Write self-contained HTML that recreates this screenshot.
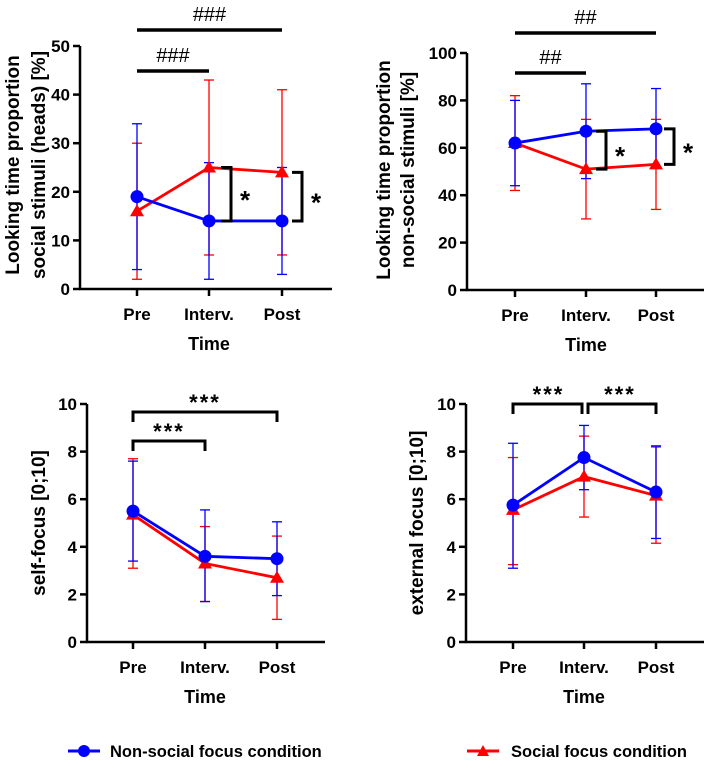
<!DOCTYPE html>
<html><head><meta charset="utf-8"><style>
body{margin:0;background:#fff;}
svg{display:block;font-family:"Liberation Sans",Arial,sans-serif;font-weight:bold;}
</style></head><body>
<svg id="chart" width="708" height="760" viewBox="0 0 708 760"></svg>
<script>
const categories = ["Pre","Interv.","Post"];
// Panel A: social stimuli
const aBlue = [19,14,14], aBlueLo = [4,2,3], aBlueHi = [34,26,25];
const aRed = [16,25,24], aRedLo = [2,7,7], aRedHi = [30,43,41];
const aTicks = [0,10,20,30,40,50];
// Panel B: non-social stimuli
const bBlue = [62,67,68], bBlueLo = [44,47,52], bBlueHi = [80,87,85];
const bRed = [62,51,53], bRedLo = [42,30,34], bRedHi = [82,72,72];
const bTicks = [0,20,40,60,80,100];
// Panel C: self-focus
const cBlue = [5.5,3.6,3.5], cBlueLo = [3.4,1.7,1.95], cBlueHi = [7.6,5.55,5.05];
const cRed = [5.35,3.3,2.7], cRedLo = [3.1,1.7,0.95], cRedHi = [7.7,4.85,4.45];
const cTicks = [0,2,4,6,8,10];
// Panel D: external focus
const dBlue = [5.75,7.75,6.3], dBlueLo = [3.1,6.4,4.35], dBlueHi = [8.35,9.1,8.2];
const dRed = [5.55,6.95,6.15], dRedLo = [3.25,5.25,4.15], dRedHi = [7.75,8.65,8.25];
const dTicks = [0,2,4,6,8,10];

const NS="http://www.w3.org/2000/svg";
const svg=document.getElementById('chart');
function mk(tag,attrs,parent,text){const e=document.createElementNS(NS,tag);for(const k in attrs)e.setAttribute(k,attrs[k]);if(text!==undefined)e.textContent=text;(parent||svg).appendChild(e);return e;}

function panel(cfg){
  const g=mk('g',{});
  
  
  const ymax=cfg.ticks[cfg.ticks.length-1];
  const Y=v=>cfg.y0-(cfg.y0-cfg.yTop)*v/ymax;
  const X=i=>cfg.xs[i];
  const ax=mk('line',{x1:cfg.ax,y1:cfg.yTop,x2:cfg.ax,y2:cfg.y0+1,stroke:'#000','stroke-width':2.5},g);
  
  const xa=mk('line',{x1:cfg.ax-1,y1:cfg.y0,x2:cfg.axEnd,y2:cfg.y0,stroke:'#000','stroke-width':2.5},g);
  
  cfg.ticks.forEach(t=>{
    mk('line',{x1:cfg.ax-7,y1:Y(t),x2:cfg.ax,y2:Y(t),stroke:'#000','stroke-width':2.5},g);
    const tl=mk('text',{x:cfg.ax-10,y:Y(t)+6,'text-anchor':'end','font-size':17},g,String(t));
    
  });
  categories.forEach((c,i)=>{
    mk('line',{x1:X(i),y1:cfg.y0,x2:X(i),y2:cfg.y0+7,stroke:'#000','stroke-width':2.5},g);
    const tl=mk('text',{x:X(i),y:cfg.y0+31,'text-anchor':'middle','font-size':17},g,c);
    
  });
  const xt=mk('text',{x:X(1),y:cfg.y0+61,'text-anchor':'middle','font-size':18},g,'Time');
  
  cfg.ylabel.forEach((ln,k)=>{
    const yl=mk('text',{x:0,y:0,'text-anchor':'middle','font-size':19,transform:`translate(${cfg.ylx[k]+7},${cfg.yly}) rotate(-90)`},g,ln);
    
  });
  const series=[{v:cfg.red,lo:cfg.redLo,hi:cfg.redHi,c:'#ff0000',m:'tri',n:'social'},{v:cfg.blue,lo:cfg.blueLo,hi:cfg.blueHi,c:'#0000ff',m:'circ',n:'non-social'}];
  series.forEach(s=>{
    s.v.forEach((v,i)=>{
      const eb=mk('g',{stroke:s.c,'stroke-width':1.3},g);
      
      mk('line',{x1:X(i),y1:Y(s.lo[i]),x2:X(i),y2:Y(s.hi[i])},eb);
      mk('line',{x1:X(i)-5,y1:Y(s.lo[i]),x2:X(i)+5,y2:Y(s.lo[i])},eb);
      mk('line',{x1:X(i)-5,y1:Y(s.hi[i]),x2:X(i)+5,y2:Y(s.hi[i])},eb);
    });
  });
  series.forEach(s=>{
    const pl=mk('polyline',{points:s.v.map((v,i)=>X(i)+','+Y(v)).join(' '),fill:'none',stroke:s.c,'stroke-width':2.8},g);
    
    s.v.forEach((v,i)=>{
      let m;
      if(s.m==='circ') m=mk('circle',{cx:X(i),cy:Y(v),r:6.5,fill:s.c},g);
      else m=mk('polygon',{points:`${X(i)},${Y(v)-7} ${X(i)-7},${Y(v)+5} ${X(i)+7},${Y(v)+5}`,fill:s.c},g);
      
    });
  });
  (cfg.bars||[]).forEach(b=>{
    const l=mk('line',{x1:X(b.a),y1:b.y,x2:X(b.b),y2:b.y,stroke:'#000','stroke-width':3.5},g);
    
    const t=mk('text',{x:(X(b.a)+X(b.b))/2,y:b.y-9,'text-anchor':'middle','font-size':20,'font-weight':'normal'},g,b.t);
    
  });
  (cfg.brackets||[]).forEach(b=>{
    const p=mk('polyline',{points:`${X(b.a)+b.da},${b.y+10} ${X(b.a)+b.da},${b.y} ${X(b.b)+b.db},${b.y} ${X(b.b)+b.db},${b.y+10}`,fill:'none',stroke:'#000','stroke-width':3},g);
    
    const t=mk('text',{x:(X(b.a)+X(b.b))/2,y:b.y-2,'text-anchor':'middle','font-size':22,'letter-spacing':2},g,'***');
    
  });
  (cfg.vbrackets||[]).forEach(b=>{
    const yt=Y(Math.max(cfg.red[b.i],cfg.blue[b.i])), yb=Y(Math.min(cfg.red[b.i],cfg.blue[b.i]));
    const p=mk('polyline',{points:`${b.x-10},${yt} ${b.x},${yt} ${b.x},${yb} ${b.x-10},${yb}`,fill:'none',stroke:'#000','stroke-width':3},g);
    
    const t=mk('text',{x:b.x+14,y:(yt+yb)/2+15,'text-anchor':'middle','font-size':26},g,'*');
    
  });
}

panel({name:'panel-social-stimuli',ax:80,axEnd:332,yTop:46,y0:289,xs:[137,209,282],ticks:aTicks,
  blue:aBlue,blueLo:aBlueLo,blueHi:aBlueHi,red:aRed,redLo:aRedLo,redHi:aRedHi,
  ylabel:['Looking time proportion','social stimuli (heads) [%]'],ylx:[12,38],yly:165,
  bars:[{a:0,b:2,y:30,t:'###'},{a:0,b:1,y:71,t:'###'}],
  vbrackets:[{i:1,x:231},{i:2,x:302}]});
panel({name:'panel-non-social-stimuli',ax:467,axEnd:704,yTop:53,y0:290,xs:[515,586,656],ticks:bTicks,
  blue:bBlue,blueLo:bBlueLo,blueHi:bBlueHi,red:bRed,redLo:bRedLo,redHi:bRedHi,
  ylabel:['Looking time proportion','non-social stimuli [%]'],ylx:[383,407],yly:170,
  bars:[{a:0,b:2,y:33,t:'##'},{a:0,b:1,y:73,t:'##'}],
  vbrackets:[{i:1,x:606},{i:2,x:674}]});
panel({name:'panel-self-focus',ax:87,axEnd:325,yTop:404,y0:642,xs:[133,205,277],ticks:cTicks,
  blue:cBlue,blueLo:cBlueLo,blueHi:cBlueHi,red:cRed,redLo:cRedLo,redHi:cRedHi,
  ylabel:['self-focus [0;10]'],ylx:[38],yly:523,
  brackets:[{a:0,b:2,y:412,da:0,db:0},{a:0,b:1,y:441,da:0,db:0}]});
panel({name:'panel-external-focus',ax:466,axEnd:704,yTop:404,y0:642,xs:[513,584,656],ticks:dTicks,
  blue:dBlue,blueLo:dBlueLo,blueHi:dBlueHi,red:dRed,redLo:dRedLo,redHi:dRedHi,
  ylabel:['external focus [0;10]'],ylx:[416],yly:523,
  brackets:[{a:0,b:1,y:404,da:0,db:-2},{a:1,b:2,y:404,da:4,db:0}]});

const lg=mk('g',{});


const e1=mk('g',{},lg);


mk('line',{x1:68,y1:751,x2:100,y2:751,stroke:'#0000ff','stroke-width':3},e1);
mk('circle',{cx:84,cy:751,r:6,fill:'#0000ff'},e1);
mk('text',{x:110,y:757,'font-size':16.5},e1,'Non-social focus condition');
const e2=mk('g',{},lg);


mk('line',{x1:467,y1:751,x2:499,y2:751,stroke:'#ff0000','stroke-width':3},e2);
mk('polygon',{points:'483,745 477,756 489,756',fill:'#ff0000'},e2);
mk('text',{x:511,y:757,'font-size':16.5},e2,'Social focus condition');
</script>
</body></html>
